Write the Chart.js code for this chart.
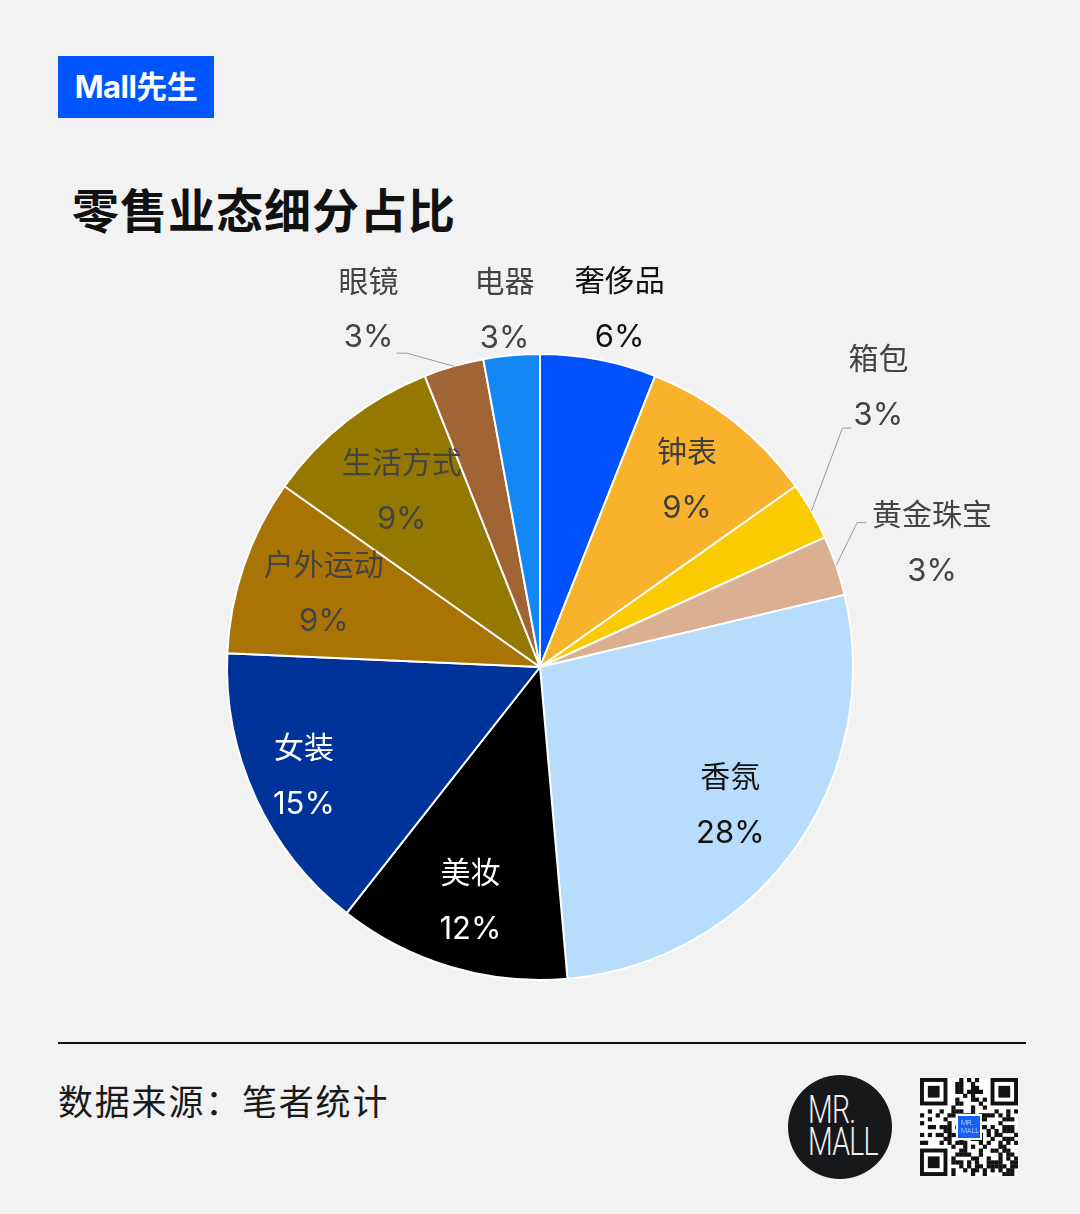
<!DOCTYPE html>
<html>
<head>
<meta charset="utf-8">
<script src="https://cdn.jsdelivr.net/npm/chart.js@4"></script>
<style>
  html, body { margin: 0; padding: 0; }
  body { width: 1080px; height: 1214px; background: #F2F2F2; position: relative; overflow: hidden;
         font-family: "Inter", "Noto Sans CJK SC", sans-serif; }
  #badge { position: absolute; left: 58px; top: 56px; width: 156px; height: 62px; background: #0055FF;
           color: #fff; font-weight: 700; font-size: 31px; line-height: 62px; text-align: center; letter-spacing: -0.5px; }
  #title { position: absolute; left: 72px; top: 178px; font-size: 47px; font-weight: 600; color: #111;
           font-family: "Noto Sans CJK SC", sans-serif; line-height: 60px; letter-spacing: 1px; }
  #rule { position: absolute; left: 58px; top: 1042px; width: 968px; height: 2px; background: #111; }
  #source { position: absolute; left: 58px; top: 1076px; font-size: 35px; color: #1a1a1a; line-height: 48px;
            font-family: "Noto Sans CJK SC", sans-serif; font-weight: 400; letter-spacing: 1.8px; }
  #logo { position: absolute; left: 788px; top: 1075px; width: 104px; height: 104px; border-radius: 50%; background: #17181A; }
  #logo div { position: absolute; left: 20px; color: #f0f0f0; font-family: "Roboto", sans-serif; font-weight: 300;
              font-size: 38px; line-height: 30px; transform: scaleX(0.75); transform-origin: left top; letter-spacing: -1px; }
  #chart { position: absolute; left: 0; top: 0; }
  #qr { position: absolute; left: 920px; top: 1078px; }
</style>
</head>
<body>
<div id="badge">Mall先生</div>
<div id="title">零售业态细分占比</div>
<div id="rule"></div>
<div id="source">数据来源：笔者统计</div>
<div id="logo"><div style="top:20px">MR.</div><div style="top:52px">MALL</div></div>
<canvas id="qr" width="98" height="98"></canvas>
<canvas id="chart" width="1080" height="1214"></canvas>
<script>
// ---- data ----
const categories = ['奢侈品','钟表','箱包','黄金珠宝','香氛','美妆','女装','户外运动','生活方式','眼镜','电器'];
const shares = [6.0, 9.2, 3.0, 3.1, 27.3, 12.0, 15.1, 9.1, 9.2, 3.1, 2.9];
const shareLabels = ['6%','9%','3%','3%','28%','12%','15%','9%','9%','3%','3%'];

// ---- styles ----
const sliceColors = ['#0052FF','#F9B22C','#F9CB00','#DBAF91','#B8DDFC','#000000','#00339A','#AA7405','#957800','#A16535','#1388F5'];
const labelColors = ['#111111','#3f3f3f','#444444','#444444','#111111','#ffffff','#ffffff','#444444','#444444','#444444','#444444'];
// inside: radial fraction; outside: offset from outer mid point, optional leader (elbow, end) relative to label centre
const labelLayout = [
  {out: true, dx: 21, dy: -51},
  {r: 0.76},
  {out: true, dx: 67, dy: -124, leader: [[-36, 41], [-27, 41]]},
  {out: true, dx: 96, dy: -23, leader: [[-75, -20], [-66, -20]]},
  {r: 0.75},
  {r: 0.78},
  {r: 0.83},
  {r: 0.73},
  {r: 0.715},
  {out: true, dx: -85, dy: -57, leader: [[38, 44], [28, 44]]},
  {out: true, dx: -7, dy: -46}
];

const sliceLabels = {
  id: 'sliceLabels',
  afterDatasetsDraw(chart) {
    const ctx = chart.ctx;
    const meta = chart.getDatasetMeta(0);
    ctx.save();
    ctx.textAlign = 'center';
    ctx.textBaseline = 'middle';
    meta.data.forEach((arc, i) => {
      const p = arc.getProps(['x','y','startAngle','endAngle','outerRadius'], true);
      const mid = (p.startAngle + p.endAngle) / 2;
      const cfg = labelLayout[i];
      let lx, ly;
      if (cfg.out) {
        const ox = p.x + p.outerRadius * Math.cos(mid);
        const oy = p.y + p.outerRadius * Math.sin(mid);
        lx = ox + cfg.dx; ly = oy + cfg.dy;
        if (cfg.leader) {
          ctx.strokeStyle = '#9a9a9a';
          ctx.lineWidth = 1;
          ctx.beginPath();
          ctx.moveTo(ox, oy);
          ctx.lineTo(lx + cfg.leader[0][0], ly + cfg.leader[0][1]);
          ctx.lineTo(lx + cfg.leader[1][0], ly + cfg.leader[1][1]);
          ctx.stroke();
        }
      } else {
        lx = p.x + p.outerRadius * cfg.r * Math.cos(mid);
        ly = p.y + p.outerRadius * cfg.r * Math.sin(mid);
      }
      ctx.fillStyle = labelColors[i];
      ctx.font = '400 30px "Noto Sans CJK SC", sans-serif';
      ctx.fillText(chart.data.labels[i], lx, ly - 29);
      ctx.font = '400 31px "Inter", "Noto Sans CJK SC", sans-serif';
      ctx.fillText(shareLabels[i], lx, ly + 29);
    });
    ctx.restore();
  }
};

new Chart(document.getElementById('chart'), {
  type: 'pie',
  data: {
    labels: categories,
    datasets: [{
      data: shares,
      backgroundColor: sliceColors,
      borderColor: '#ffffff',
      borderWidth: 2
    }]
  },
  options: {
    responsive: false,
    animation: false,
    radius: 313,
    layout: { padding: { top: 340, bottom: 220, left: 0, right: 0 } },
    plugins: { legend: { display: false }, tooltip: { enabled: false } }
  },
  plugins: [sliceLabels]
});

// decorative QR-style mark
(function () {
  const c = document.getElementById('qr').getContext('2d');
  const n = 25, s = 98 / n;
  c.fillStyle = '#ffffff';
  c.fillRect(0, 0, 98, 98);
  c.fillStyle = '#111';
  function finder(cx, cy) {
    c.fillRect(cx * s, cy * s, 7 * s, 7 * s);
    c.fillStyle = '#fff'; c.fillRect((cx + 1) * s, (cy + 1) * s, 5 * s, 5 * s);
    c.fillStyle = '#111'; c.fillRect((cx + 2) * s, (cy + 2) * s, 3 * s, 3 * s);
  }
  function inFinder(x, y) {
    return (x < 8 && y < 8) || (x > 16 && y < 8) || (x < 8 && y > 16);
  }
  for (let y = 0; y < n; y++) {
    for (let x = 0; x < n; x++) {
      if (inFinder(x, y)) continue;
      const h = ((x * 73856093) ^ (y * 19349663) ^ (x * y * 83492791)) >>> 0;
      if (h % 7 < 3) c.fillRect(x * s, y * s, s + 0.3, s + 0.3);
    }
  }
  finder(0, 0); finder(18, 0); finder(0, 18);
  c.fillStyle = '#ffffff';
  c.fillRect(36, 36, 26, 26);
  c.fillStyle = '#1560F5';
  c.fillRect(38, 38, 22, 22);
  c.fillStyle = '#dfe8ff';
  c.font = '300 7px Roboto, sans-serif';
  c.textAlign = 'left';
  c.fillText('MR.', 41, 47);
  c.fillText('MALL', 41, 55);
})();
</script>
</body>
</html>
